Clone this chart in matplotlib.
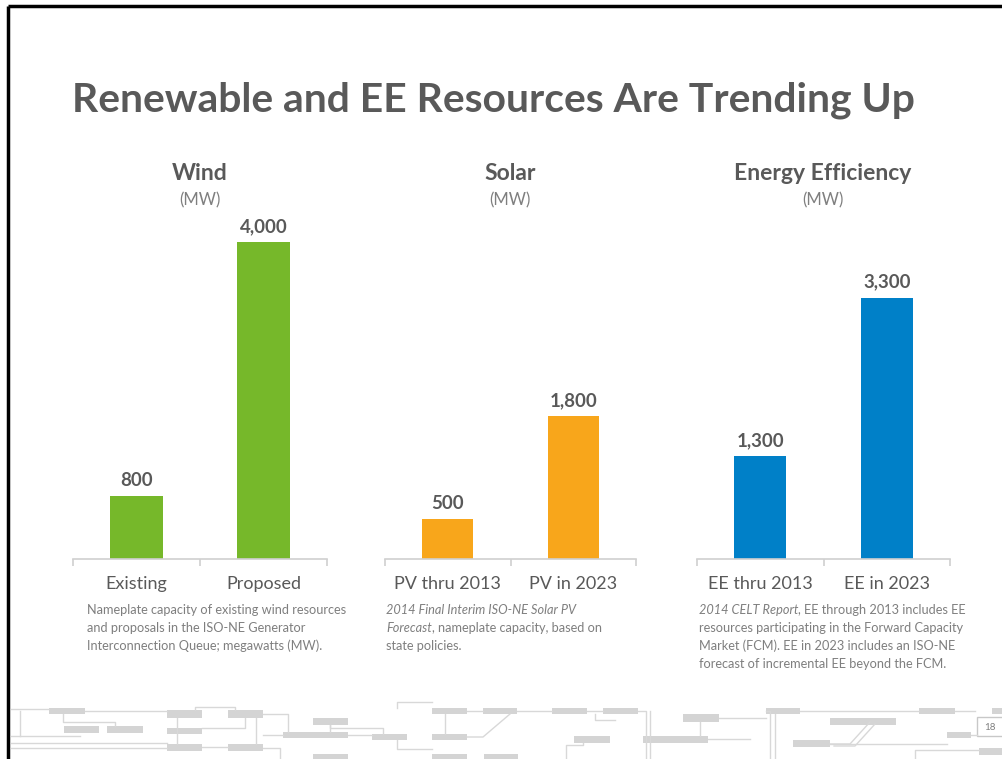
import matplotlib
matplotlib.use('Agg')
import matplotlib.pyplot as plt
from matplotlib.patches import Rectangle

W, H = 1003, 759

# chart data
title = 'Renewable and EE Resources Are Trending Up'
panel_titles = ['Wind', 'Solar', 'Energy Efficiency']
unit = '(MW)'
wind_labels = ['Existing', 'Proposed']
wind_mw = [800, 4000]
solar_labels = ['PV thru 2013', 'PV in 2023']
solar_mw = [500, 1800]
ee_labels = ['EE thru 2013', 'EE in 2023']
ee_mw = [1300, 3300]
colours = ['#76b82a', '#f8a61b', '#0080c8']

# source notes, one list of (text, italic) segments per line
wind_note = [
    [('Nameplate capacity of existing wind resources', False)],
    [('and proposals in the ISO-NE Generator', False)],
    [('Interconnection Queue; megawatts (MW).', False)],
]
solar_note = [
    [('2014 Final Interim ISO-NE Solar PV', True)],
    [('Forecast', True), (', nameplate capacity, based on', False)],
    [('state policies.', False)],
]
ee_note = [
    [('2014 CELT Report', True), (', EE through 2013 includes EE', False)],
    [('resources participating in the Forward Capacity', False)],
    [('Market (FCM). EE in 2023 includes an ISO-NE', False)],
    [('forecast of incremental EE beyond the FCM.', False)],
]

DARK = '#595959'
GREY = '#7f7f7f'
FONT = 'Lato'

plt.rcParams['font.family'] = [FONT, 'DejaVu Sans']

fig = plt.figure(figsize=(W / 100, H / 100), dpi=100)
fig.patch.set_facecolor('white')

# background axes in pixel coordinates for decoration and free text
bg = fig.add_axes([0, 0, 1, 1])
bg.set_xlim(0, W)
bg.set_ylim(H, 0)
bg.axis('off')

# slide border (top and left)
bg.plot([8, W], [6, 6], color='black', lw=2.5, solid_capstyle='butt')
bg.plot([8, 8], [6, H], color='black', lw=2.5, solid_capstyle='butt')

# circuit-board footer decoration
boxes = [
    (49, 708, 85, 714), (64, 726, 99, 733), (107, 726, 143, 733),
    (167, 710, 202, 718), (167, 728, 202, 734), (167, 744, 202, 751),
    (228, 710, 263, 718), (228, 744, 263, 751), (313, 718, 348, 725),
    (283, 732, 348, 738), (372, 734, 407, 740), (432, 708, 467, 714),
    (432, 734, 467, 740), (483, 708, 517, 714), (313, 754, 348, 759),
    (432, 754, 467, 759), (484, 754, 518, 759), (552, 708, 587, 714),
    (603, 708, 638, 714), (683, 714, 719, 722), (766, 708, 800, 714),
    (830, 718, 896, 725), (919, 708, 955, 714), (992, 708, 1003, 714),
    (574, 736, 610, 743), (643, 736, 708, 743), (793, 740, 830, 747),
    (947, 732, 971, 738), (979, 748, 1003, 755),
]
for x0, y0, x1, y1 in boxes:
    bg.add_patch(Rectangle((x0, y0), x1 - x0, y1 - y0,
                           facecolor='#d4d4d4', edgecolor='none'))

wires = [
    ([11, 49], [709, 709]), ([85, 167], [711, 711]),
    ([63, 63, 115, 115], [714, 722, 722, 726]),
    ([11, 80], [736, 736]), ([11, 167], [743, 743]), ([11, 167], [748, 748]),
    ([20, 20], [711, 736]), ([195, 195, 235, 235], [710, 707, 707, 710]),
    ([202, 228], [747, 747]), ([177, 177], [718, 744]),
    ([245, 245, 202], [718, 728, 728]), ([256, 256], [718, 744]),
    ([263, 288, 288], [714, 714, 732]), ([283, 263], [735, 735]),
    ([263, 280, 280], [748, 748, 759]),
    ([330, 330], [725, 732]), ([348, 372], [735, 735]),
    ([383, 383, 330, 330], [734, 728, 728, 725]),
    ([397, 397, 397, 432], [740, 749, 749, 749]),
    ([397, 397, 432], [708, 702, 702]), ([467, 483], [711, 711]),
    ([445, 445], [714, 734]), ([467, 483, 510, 510], [737, 737, 714, 714]),
    ([517, 552], [711, 711]), ([587, 603], [711, 711]),
    ([595, 595, 615], [714, 720, 720]), ([566, 566, 583, 583], [759, 745, 745, 743]),
    ([638, 646, 646], [711, 711, 759]), ([650, 650], [711, 759]),
    ([708, 750], [739, 739]), ([700, 700], [722, 736]),
    ([719, 766], [718, 718]), ([766, 770, 770], [711, 711, 759]),
    ([775, 775], [714, 759]), ([800, 919], [711, 711]),
    ([830, 850, 870], [744, 744, 722]), ([834, 855, 875], [746, 746, 724]),
    ([830, 947], [744, 744]), ([955, 975], [711, 711]),
    ([915, 915, 979], [759, 750, 750]), ([971, 977], [735, 735]),
]
for xs, ys in wires:
    bg.plot(xs, ys, color='#d8d8d8', lw=1.0)

# page number box
bg.add_patch(Rectangle((977, 717), 30, 19, facecolor='white',
                       edgecolor='#c8c8c8', lw=1.0))
bg.text(990, 727, '18', fontsize=7, color=GREY, ha='center', va='center')

# slide title
bg.text(72, 100, title, fontsize=29.4, fontweight='bold', color=DARK,
        ha='left', va='center')


def draw_note(lines, x, y, step=18):
    for i, segments in enumerate(lines):
        prev = None
        for text, italic in segments:
            style = 'italic' if italic else 'normal'
            if prev is None:
                prev = bg.text(x, y + i * step, text, fontsize=9.2,
                               color=GREY, style=style,
                               ha='left', va='center')
            else:
                prev = bg.annotate(text, xy=(1, 0), xycoords=prev,
                                   fontsize=9.2, color=GREY, style=style,
                                   ha='left', va='bottom')


panels = [
    (73, 327, 200, wind_labels, wind_mw, wind_note, 87),
    (385, 636, 510, solar_labels, solar_mw, solar_note, 386),
    (697, 950, 823, ee_labels, ee_mw, ee_note, 699),
]
base_y, top_y = 559, 230
px_per_mw = 0.0792

for (x0, x1, xc, labels, values, note, nx), name, colour in zip(
        panels, panel_titles, colours):
    ax = fig.add_axes([x0 / W, 1 - base_y / H, (x1 - x0) / W,
                       (base_y - top_y) / H])
    ax.bar(range(len(values)), values, width=0.41, color=colour)
    ax.set_xlim(-0.5, len(values) - 0.5)
    ax.set_ylim(0, (base_y - top_y) / px_per_mw)
    for side in ['top', 'right', 'left']:
        ax.spines[side].set_visible(False)
    ax.spines['bottom'].set_color('#d0d0d0')
    ax.spines['bottom'].set_linewidth(1.2)
    ax.set_yticks([])
    ax.set_xticks(range(len(values)))
    ax.set_xticklabels(labels, fontsize=13, color=DARK)
    ax.tick_params(axis='x', which='major', length=0, pad=12)
    ax.set_xticks([i - 0.5 for i in range(len(values) + 1)], minor=True)
    ax.tick_params(axis='x', which='minor', length=5, width=1.2,
                   color='#d0d0d0')
    ax.patch.set_alpha(0)
    for i, v in enumerate(values):
        ax.annotate(f'{v:,}', xy=(i, v), xytext=(0, 5),
                    textcoords='offset points', ha='center', va='bottom',
                    fontsize=13.5, fontweight='bold', color=DARK)
    bg.text(xc, 174, name, fontsize=16.5, fontweight='bold', color=DARK,
            ha='center', va='center')
    bg.text(xc, 200, unit, fontsize=12, color=GREY,
            ha='center', va='center')
    draw_note(note, nx, 610)

fig.savefig('out.png', dpi=100)
